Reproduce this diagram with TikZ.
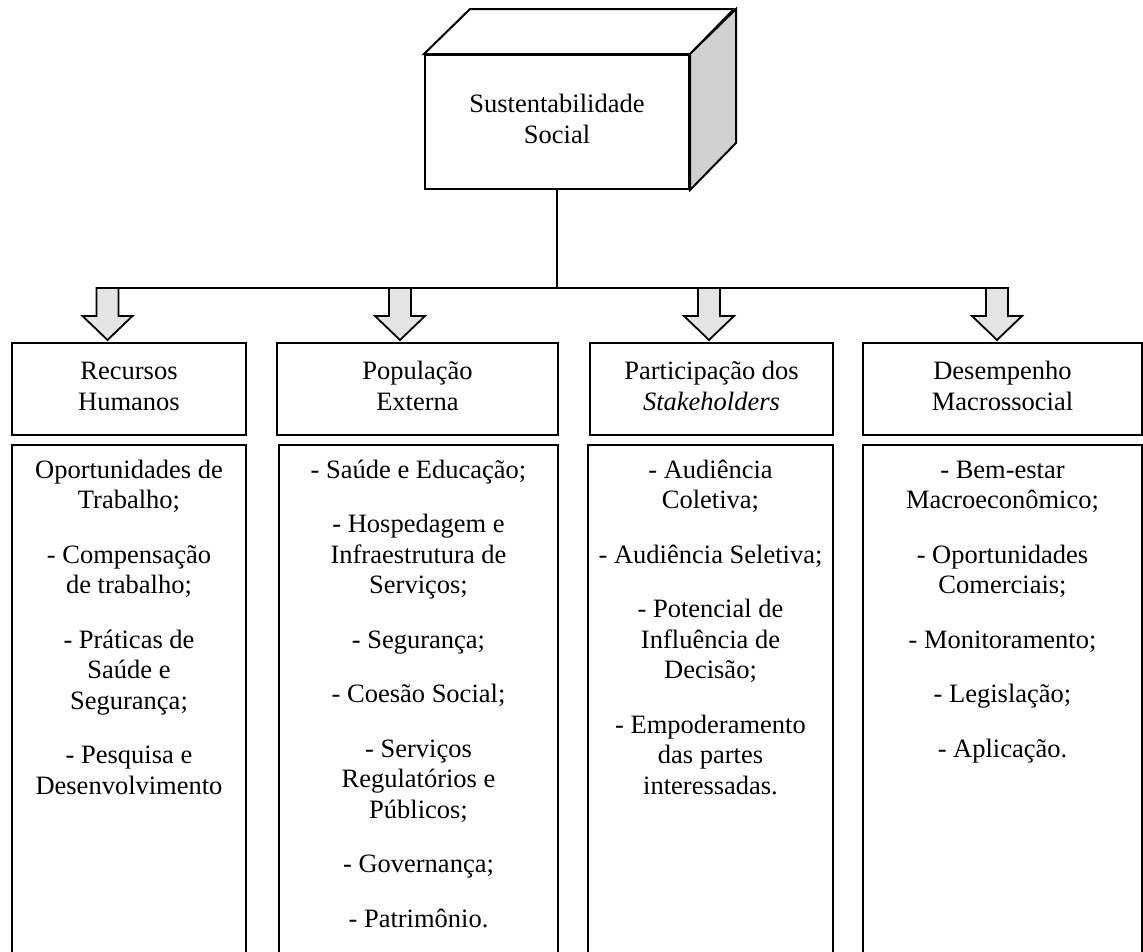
\documentclass[tikz,border=0pt]{standalone}
\usepackage{fontspec}
\setmainfont{Liberation Serif}
\definecolor{cubeside}{RGB}{208,208,208}
\definecolor{arrowfill}{RGB}{228,228,228}
\begin{document}
\begin{tikzpicture}[x=1pt,y=-1pt,
  txt/.style={font=\fontsize{26.5}{30.5}\selectfont, align=center, inner sep=0pt},
  frame/.style={draw=black, line width=2pt},
  link/.style={draw=black, line width=1.5pt},
  headbox/.style={frame, txt, anchor=north west, minimum height=92pt},
  listbox/.style={frame, anchor=north west, minimum height=560pt, inner sep=0pt},
  droparrow/.pic={\draw[black, line width=1.8pt, fill=arrowfill, line join=miter]
      (-11,0) -- (-11,28) -- (-25,28) -- (0,52) -- (25,28) -- (11,28) -- (11,0) -- cycle;}
]
\useasboundingbox (0,0) rectangle (1143,951);
\clip (0,0) rectangle (1143,951);

% central block drawn as a box in perspective
\node[frame, fill=white, txt, anchor=north west, minimum width=264pt, minimum height=134pt]
  (core) at (424,54) {\strut Sustentabilidade\\\strut Social};
\draw[frame, fill=white, line join=miter] (core.north west) -- ++(46,-45) -- ++(264,0)
  -- (core.north east) -- cycle;
\draw[frame, fill=cubeside, line join=miter] (core.north east) -- ++(46,-45) -- ++(0,134)
  -- (core.south east) -- cycle;

% distribution bus
\coordinate (a1) at (107.5,288);
\coordinate (a2) at (400,288);
\coordinate (a3) at (709,288);
\coordinate (a4) at (997,288);
\draw[link] (core.south) -- (core.south |- a1);
\draw[link] ([xshift=-11pt]a1) -- ([xshift=11pt]a4);

% dimension headers
\node[headbox, minimum width=234pt] (h1) at (11,342) {\strut Recursos\\\strut Humanos};
\node[headbox, minimum width=281pt] (h2) at (276,342) {\strut População\\\strut Externa};
\node[headbox, minimum width=243pt] (h3) at (589,342) {\strut Participação dos\\\strut \textit{Stakeholders}};
\node[headbox, minimum width=279pt] (h4) at (862,342) {\strut Desempenho\\\strut Macrossocial};

\pic at (a1) {droparrow};
\pic at (a2) {droparrow};
\pic at (a3) {droparrow};
\pic at (a4) {droparrow};

% indicator lists
\node[listbox, minimum width=234pt] (b1) at (11,444) {};
\node[listbox, minimum width=279pt] (b2) at (278,444) {};
\node[listbox, minimum width=245pt] (b3) at (587,444) {};
\node[listbox, minimum width=279pt] (b4) at (862,444) {};

\node[txt, anchor=north] (t1) at ([yshift=-12.6pt]b1.north) {\strut Oportunidades de\\Trabalho;\\[24pt]
  - Compensação\\de trabalho;\\[24pt]
  - Práticas de\\Saúde e\\Segurança;\\[24pt]
  - Pesquisa e\\Desenvolvimento};
\node[txt, anchor=north] (t2) at ([yshift=-12.6pt]b2.north) {\strut - Saúde e Educação;\\[24pt]
  - Hospedagem e\\Infraestrutura de\\Serviços;\\[24pt]
  - Segurança;\\[24pt]
  - Coesão Social;\\[24pt]
  - Serviços\\Regulatórios e\\Públicos;\\[24pt]
  - Governança;\\[24pt]
  - Patrimônio.};
\node[txt, anchor=north] (t3) at ([yshift=-12.6pt]b3.north) {\strut - Audiência\\Coletiva;\\[24pt]
  - Audiência Seletiva;\\[24pt]
  - Potencial de\\Influência de\\Decisão;\\[24pt]
  - Empoderamento\\das partes\\interessadas.};
\node[txt, anchor=north] (t4) at ([yshift=-12.6pt]b4.north) {\strut - Bem-estar\\Macroeconômico;\\[24pt]
  - Oportunidades\\Comerciais;\\[24pt]
  - Monitoramento;\\[24pt]
  - Legislação;\\[24pt]
  - Aplicação.};
\end{tikzpicture}
\end{document}
